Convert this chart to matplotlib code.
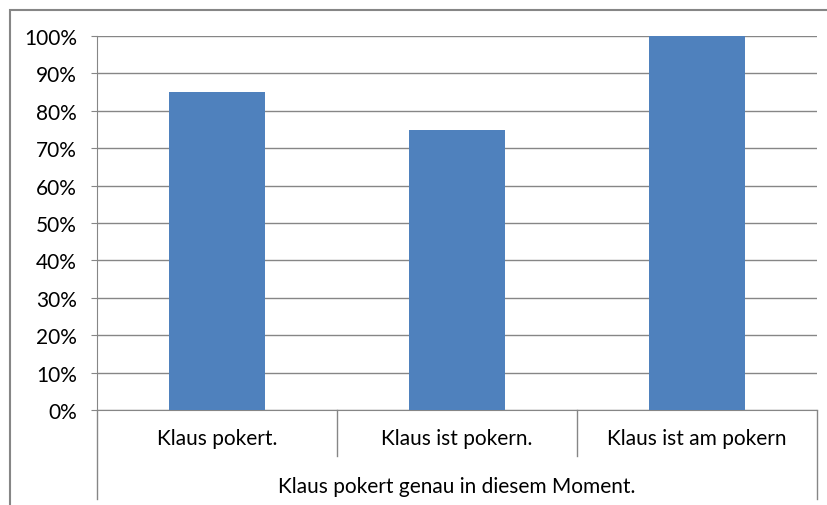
import matplotlib
matplotlib.use("Agg")
import matplotlib.pyplot as plt
from matplotlib.patches import Rectangle
from matplotlib.ticker import PercentFormatter
from matplotlib.transforms import blended_transform_factory

categories = ["Klaus pokert.", "Klaus ist pokern.", "Klaus ist am pokern"]
values = [0.85, 0.75, 1.00]
group_label = "Klaus pokert genau in diesem Moment."
yticks = [0, 0.1, 0.2, 0.3, 0.4, 0.5, 0.6, 0.7, 0.8, 0.9, 1.0]

W, H = 828, 506
fig = plt.figure(figsize=(W / 100, H / 100), dpi=100)
plt.rcParams['font.family'] = ['Lato', 'DejaVu Sans']

grey = "#868686"
bar_color = "#4F81BD"
fs = 15

# outer chart border (clipped at right and bottom edges)
fig.patches.append(Rectangle((10 / W, -0.1), 1.2, 1 - 11 / H + 0.1, transform=fig.transFigure,
                             fill=False, edgecolor=grey, linewidth=1.5))

left, right, top, bottom = 97, 817, 37, 411
ax = fig.add_axes([left / W, 1 - bottom / H, (right - left) / W, (bottom - top) / H])

x = [i + 0.5 for i in range(len(categories))]
ax.bar(x, values, width=0.4, color=bar_color, zorder=3)
ax.set_xlim(0, len(categories))
ax.set_ylim(0, 1)
ax.set_yticks(yticks)
ax.yaxis.set_major_formatter(PercentFormatter(1.0, decimals=0))
ax.grid(axis='y', color=grey, linewidth=1.0, zorder=0)
ax.set_xticks([])
for s in ['top', 'right']:
    ax.spines[s].set_visible(False)
ax.spines['left'].set_color(grey)
ax.spines['bottom'].set_color(grey)
ax.tick_params(axis='y', length=4.5, color=grey, pad=10, labelsize=fs, labelcolor="#000000")

# multi-level category axis
trans = blended_transform_factory(ax.transData, fig.transFigure)
def fy(p):
    return 1 - p / H

for b in range(len(categories) + 1):
    if b == 0 or b == len(categories):
        y_end = 500
    else:
        y_end = 457
    ax.plot([b, b], [fy(bottom), fy(y_end)], color=grey, linewidth=1.0,
            transform=trans, clip_on=False)

for xi, lab in zip(x, categories):
    ax.text(xi, fy(439), lab, transform=trans, ha='center', va='center', fontsize=fs)

ax.text(len(categories) / 2, fy(487), group_label, transform=trans,
        ha='center', va='center', fontsize=fs)

fig.savefig("out.png", dpi=100)
